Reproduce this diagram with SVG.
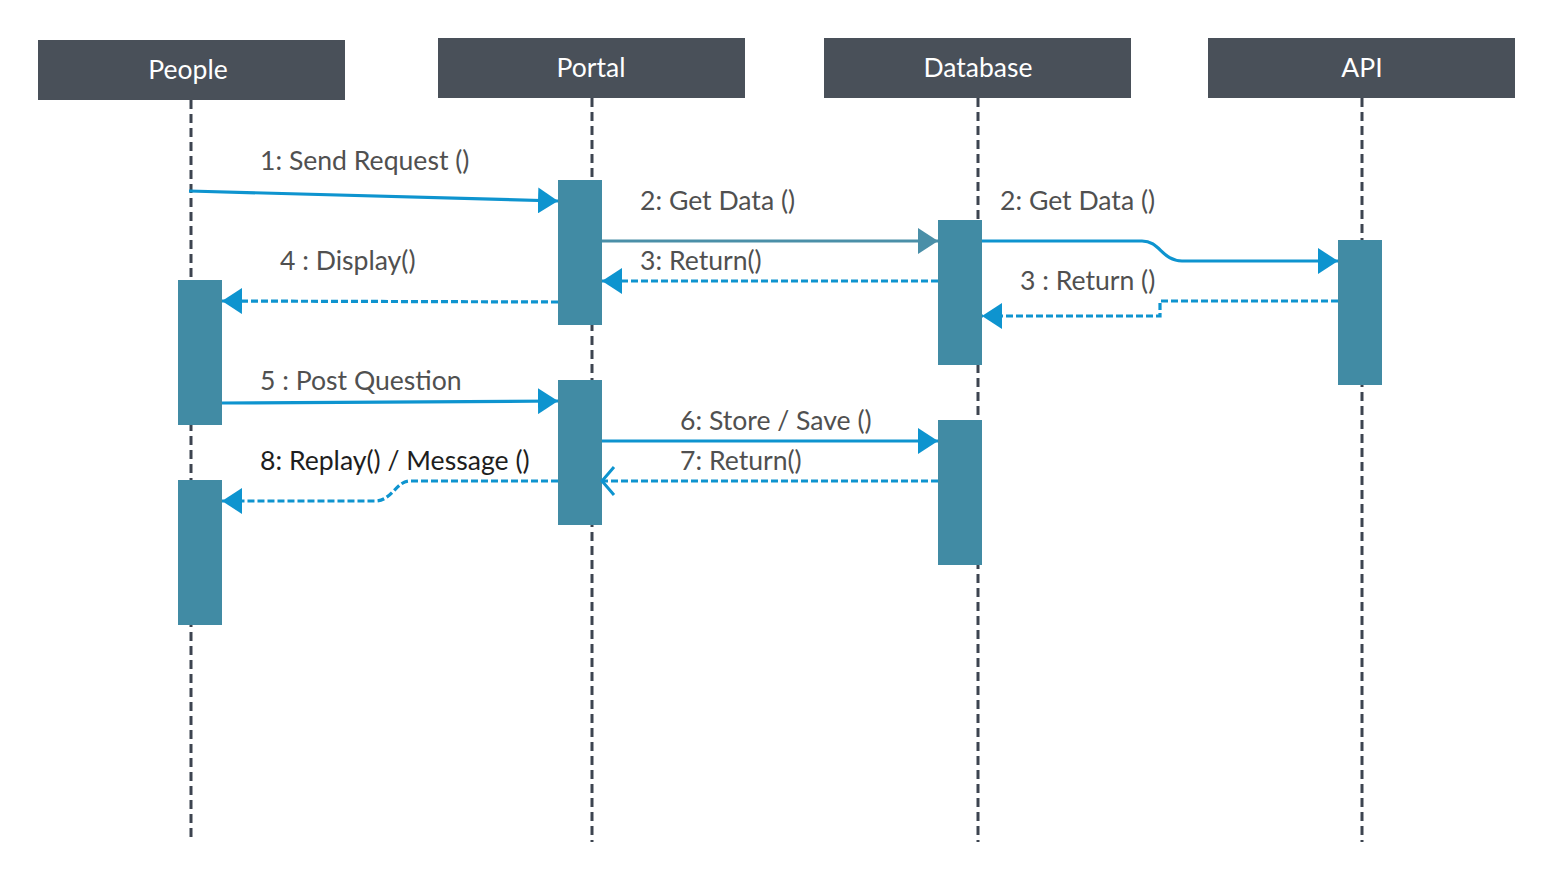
<svg xmlns="http://www.w3.org/2000/svg" width="1553" height="882" viewBox="0 0 1553 882">
<defs>
<style>
.hdr{fill:#495059;}
.htxt{font-family:Lato,"Open Sans",sans-serif;font-size:26.5px;fill:#ffffff;text-anchor:middle;}
.life{stroke:#3d4450;stroke-width:3;stroke-dasharray:9 5;fill:none;}
.act{fill:#418ba4;}
.msg{stroke:#0e94cf;stroke-width:3.2;fill:none;}
.msg2{stroke:#4a8fa8;stroke-width:3.2;fill:none;}
.ret{stroke:#0e94cf;stroke-width:3.2;fill:none;stroke-dasharray:7 3;}
.lbl{font-family:Lato,"Open Sans",sans-serif;font-size:26.6px;fill:#505050;}
.lbl-dark{font-family:Lato,"Open Sans",sans-serif;font-size:26.6px;fill:#1e1e1e;}
</style>
<marker id="arr" markerUnits="userSpaceOnUse" markerWidth="22" markerHeight="26" refX="20" refY="13" orient="auto">
<path d="M0,0 L20,13 L0,26 Z" fill="#0e94cf"/>
</marker>
<marker id="arr2" markerUnits="userSpaceOnUse" markerWidth="22" markerHeight="26" refX="20" refY="13" orient="auto">
<path d="M0,0 L20,13 L0,26 Z" fill="#4a8fa8"/>
</marker>
<marker id="open" markerUnits="userSpaceOnUse" markerWidth="18" markerHeight="32" refX="15" refY="16" orient="auto">
<path d="M3,2 L15,16 L3,30" fill="none" stroke="#0e94cf" stroke-width="3"/>
</marker>
</defs>
<rect width="1553" height="882" fill="#ffffff"/>

<g id="lifelines">
<line class="life" x1="191" y1="100" x2="191" y2="838"/>
<line class="life" x1="592" y1="98" x2="592" y2="842"/>
<line class="life" x1="978" y1="98" x2="978" y2="842"/>
<line class="life" x1="1362" y1="98" x2="1362" y2="842"/>
</g>

<g id="people">
<rect class="hdr" x="38" y="40" width="307" height="60"/>
<text class="htxt" x="188" y="79">People</text>
</g>
<g id="portal">
<rect class="hdr" x="438" y="38" width="307" height="60"/>
<text class="htxt" x="591" y="77">Portal</text>
</g>
<g id="database">
<rect class="hdr" x="824" y="38" width="307" height="60"/>
<text class="htxt" x="978" y="77">Database</text>
</g>
<g id="api">
<rect class="hdr" x="1208" y="38" width="307" height="60"/>
<text class="htxt" x="1362" y="77">API</text>
</g>

<g id="activations">
<rect class="act" x="178" y="280" width="44" height="145"/>
<rect class="act" x="178" y="480" width="44" height="145"/>
<rect class="act" x="558" y="180" width="44" height="145"/>
<rect class="act" x="558" y="380" width="44" height="145"/>
<rect class="act" x="938" y="220" width="44" height="145"/>
<rect class="act" x="938" y="420" width="44" height="145"/>
<rect class="act" x="1338" y="240" width="44" height="145"/>
</g>

<g id="connectors">
<path class="msg" d="M189,191 L558,201" marker-end="url(#arr)"/>
<path class="msg2" d="M602,241 L938,241" marker-end="url(#arr2)"/>
<path class="msg" d="M982,241 L1142,241 C1160,241 1162,261 1182,261 L1338,261" marker-end="url(#arr)"/>
<path class="ret" d="M938,281 L602,281" marker-end="url(#arr)"/>
<path class="ret" d="M1338,301 L1160,301 L1160,316 L982,316" marker-end="url(#arr)"/>
<path class="ret" d="M558,302 L222,301" marker-end="url(#arr)"/>
<path class="msg" d="M222,403 L558,401" marker-end="url(#arr)"/>
<path class="msg" d="M602,441 L938,441" marker-end="url(#arr)"/>
<path class="ret" d="M938,481 L602,481" marker-end="url(#open)"/>
<path class="ret" d="M558,481 L410,481 C396,481 392,501 375,501 L222,501" marker-end="url(#arr)"/>
</g>

<g id="labels">
<text class="lbl" x="260" y="170">1: Send Request ()</text>
<text class="lbl" x="640" y="210">2: Get Data ()</text>
<text class="lbl" x="1000" y="210">2: Get Data ()</text>
<text class="lbl" x="280" y="270">4 : Display()</text>
<text class="lbl" x="640" y="270">3: Return()</text>
<text class="lbl" x="1020" y="290">3 : Return ()</text>
<text class="lbl" x="260" y="390">5 : Post Question</text>
<text class="lbl" x="680" y="430">6: Store / Save ()</text>
<text class="lbl" x="680" y="470">7: Return()</text>
<text class="lbl-dark" x="260" y="470">8: Replay() / Message ()</text>
</g>
</svg>
